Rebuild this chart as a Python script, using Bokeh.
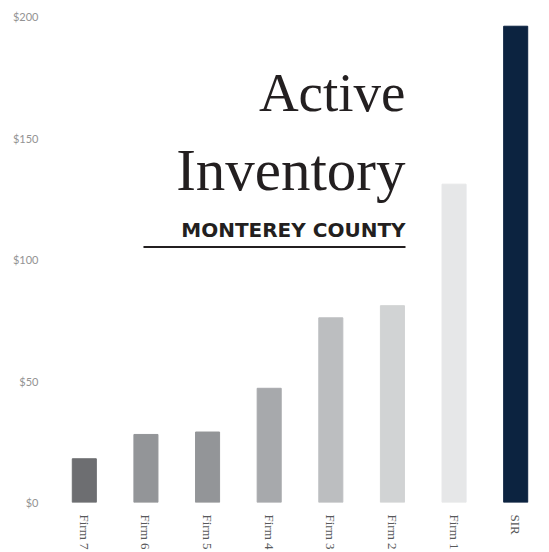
from bokeh.plotting import figure
from bokeh.models import ColumnDataSource, Range1d, FactorRange, Label, NumeralTickFormatter
from bokeh.embed import file_html
from bokeh.resources import INLINE

firms = ["Firm 7", "Firm 6", "Firm 5", "Firm 4", "Firm 3", "Firm 2", "Firm 1", "SIR"]
values = [18, 28, 29, 47, 76, 81, 131, 196]
colors = ["#6d6e71", "#939598", "#939598", "#a7a9ac", "#bcbec0", "#d1d3d4", "#e6e7e8", "#0c2340"]
y_ticks = [0, 50, 100, 150, 200]

title_line1 = "Active"
title_line2 = "Inventory"
subtitle = "MONTEREY COUNTY"

src = ColumnDataSource(dict(firm=firms, value=values, color=colors))

p = figure(width=549, height=552, x_range=FactorRange(*firms), y_range=Range1d(0, 200),
           output_backend="svg", toolbar_location=None,
           min_border_left=53, min_border_right=3, min_border_top=16, min_border_bottom=50)

p.vbar(x="firm", top="value", width=0.39, color="color", source=src)

p.outline_line_color = None
p.xgrid.grid_line_color = None
p.ygrid.grid_line_color = None
p.background_fill_color = "white"

p.yaxis.ticker = y_ticks
p.yaxis.formatter = NumeralTickFormatter(format="$0")
p.yaxis.axis_line_color = None
p.yaxis.major_tick_line_color = None
p.yaxis.minor_tick_line_color = None
p.yaxis.major_label_text_font = "Lato"
p.yaxis.major_label_text_font_size = "11px"
p.yaxis.major_label_text_color = "#939393"
p.yaxis.major_label_standoff = 9

p.xaxis.axis_line_color = None
p.xaxis.major_tick_line_color = None
p.xaxis.minor_tick_line_color = None
p.xaxis.major_label_orientation = "vertical"
p.xaxis.major_label_text_font = "Liberation Serif"
p.xaxis.major_label_text_font_size = "13px"
p.xaxis.major_label_text_color = "#58595b"
p.xaxis.major_label_standoff = 6

x_right = 5.712
p.add_layout(Label(x=x_right, y=168.8, text=title_line1, text_align="right", text_baseline="alphabetic",
                   text_font="Liberation Serif", text_font_size="55px", text_color="#231f20"))
p.add_layout(Label(x=x_right, y=137.0, text=title_line2, text_align="right", text_baseline="alphabetic",
                   text_font="Liberation Serif", text_font_size="59px", text_color="#231f20"))
p.add_layout(Label(x=x_right, y=112.1, text=subtitle, text_align="right", text_baseline="alphabetic",
                   text_font="DejaVu Sans", text_font_style="bold", text_font_size="20px",
                   text_color="#231f20"))
p.segment(x0=[1.46], y0=[105.1], x1=[x_right], y1=[105.1], line_color="#231f20", line_width=2)

open("out.html", "w").write(file_html(p, INLINE))
